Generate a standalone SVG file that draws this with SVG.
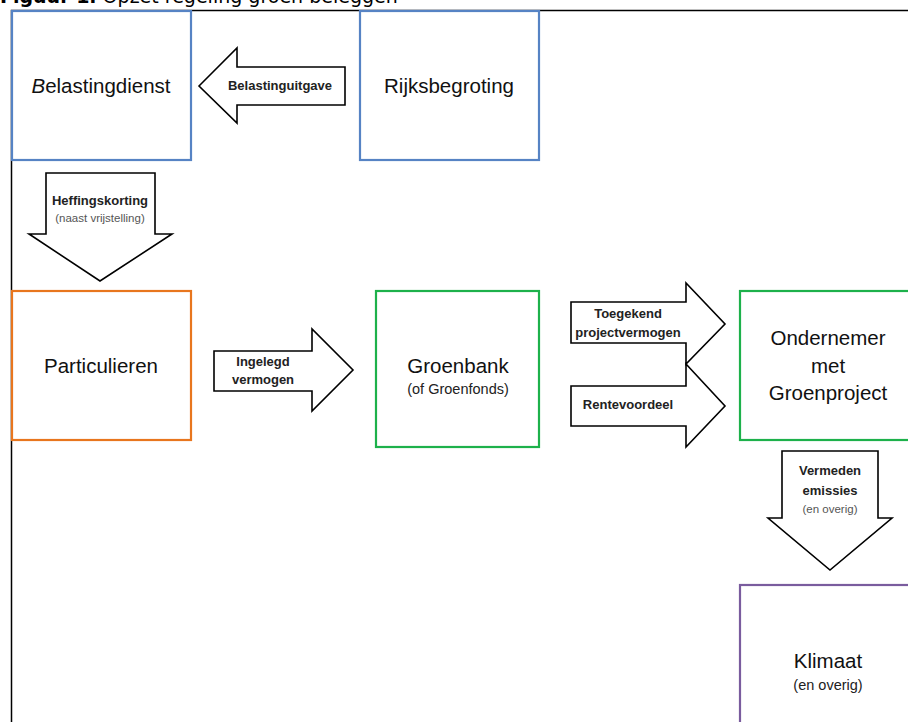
<svg xmlns="http://www.w3.org/2000/svg" width="908" height="722" viewBox="0 0 908 722">
<style>
.box{fill:#fff;stroke-width:2.2}
.blue{stroke:#5683C4}
.orange{stroke:#E8761E}
.green{stroke:#1DB14B}
.purple{stroke:#7A5C9E}
.arrow{fill:#fff;stroke:#000;stroke-width:1.6;stroke-linejoin:miter}
.big{font-family:"Liberation Sans",Arial,sans-serif;font-size:20.5px;fill:#111;text-anchor:middle}
.sub{font-family:"Liberation Sans",Arial,sans-serif;font-size:14.5px;fill:#222;text-anchor:middle}
.lbl{font-family:"Liberation Sans",Arial,sans-serif;font-size:13px;font-weight:bold;fill:#222;text-anchor:middle}
.note{font-family:"Liberation Sans",Arial,sans-serif;font-size:11.5px;fill:#555;text-anchor:middle}
.title{font-family:"DejaVu Sans",Verdana,sans-serif;font-size:19px;fill:#000}
</style>
<rect width="908" height="722" fill="#fff"/>
<text class="title" x="0" y="3"><tspan font-weight="bold">Figuur 1.</tspan> Opzet regeling groen beleggen</text>
<path d="M11.5 722 V10.5 H908" fill="none" stroke="#000" stroke-width="1.5"/>
<g id="connectors">
<polygon class="arrow" points="199,86 237,48 237,67 345,67 345,105 237,105 237,123"/>
<polygon class="arrow" points="46,173 155,173 155,234 172,234 100,281 29,234 46,234"/>
<polygon class="arrow" points="214,351 312,351 312,329 353,370 312,411 312,391 214,391"/>
<polygon class="arrow" points="571,302 686,302 686,283 725,324 686,364 686,343 571,343"/>
<polygon class="arrow" points="571,386 686,386 686,364 725,406 686,447 686,426 571,426"/>
<polygon class="arrow" points="782,451 878,451 878,518 892,518 830,570 768,518 782,518"/>
<text class="lbl" x="280" y="90">Belastinguitgave</text>
<text class="lbl" x="100" y="205">Heffingskorting</text>
<text class="note" x="100" y="222">(naast vrijstelling)</text>
<text class="lbl" x="263" y="366">Ingelegd</text>
<text class="lbl" x="263" y="384">vermogen</text>
<text class="lbl" x="628" y="318">Toegekend</text>
<text class="lbl" x="628" y="337">projectvermogen</text>
<text class="lbl" x="628" y="409">Rentevoordeel</text>
<text class="lbl" x="830" y="475">Vermeden</text>
<text class="lbl" x="830" y="495">emissies</text>
<text class="note" x="830" y="513">(en overig)</text>
</g>
<g id="belastingdienst">
<rect class="box blue" x="12" y="11" width="179" height="149"/>
<text class="big" x="101" y="93"><tspan font-style="italic">B</tspan>elastingdienst</text>
</g>
<g id="rijksbegroting">
<rect class="box blue" x="360" y="11" width="179" height="149"/>
<text class="big" x="449" y="93">Rijksbegroting</text>
</g>
<g id="particulieren">
<rect class="box orange" x="12" y="291" width="179" height="149"/>
<text class="big" x="101" y="373">Particulieren</text>
</g>
<g id="groenbank">
<rect class="box green" x="376" y="291" width="163" height="156"/>
<text class="big" x="458" y="373">Groenbank</text>
<text class="sub" x="458" y="394">(of Groenfonds)</text>
</g>
<g id="ondernemer">
<rect class="box green" x="740" y="291" width="180" height="149"/>
<text class="big" x="828" y="345">Ondernemer</text>
<text class="big" x="828" y="373">met</text>
<text class="big" x="828" y="400">Groenproject</text>
</g>
<g id="klimaat">
<rect class="box purple" x="740" y="585" width="180" height="150"/>
<text class="big" x="828" y="668">Klimaat</text>
<text class="sub" x="828" y="690">(en overig)</text>
</g>
</svg>
